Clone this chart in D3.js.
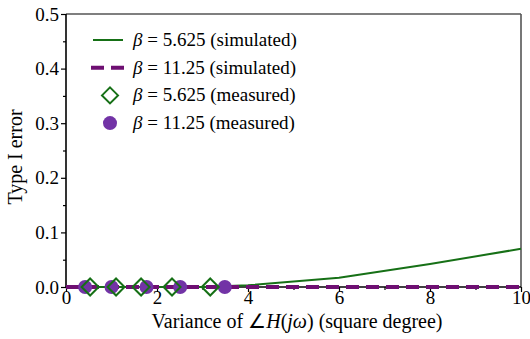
<!DOCTYPE html>
<html>
<head>
<meta charset="utf-8">
<script src="https://cdn.jsdelivr.net/npm/d3@7"></script>
<style>
  html, body { margin: 0; padding: 0; background: #fff; }
  svg { display: block; }
</style>
</head>
<body>
<svg id="chart" width="530" height="339"></svg>
<script>
// Simulated Type I error vs. phase variance
const simX = [0, 1, 2, 3, 4, 6, 8, 10];
const simLow = [0, 0, 0, 0, 0.003, 0.017, 0.042, 0.070];     // beta = 5.625
const simHigh = [0, 0, 0, 0, 0, 0, 0, 0];                     // beta = 11.25

// Measured points
const measLowX = [0.53, 1.10, 1.65, 2.33, 3.17];
const measLowY = [0, 0, 0, 0, 0];
const measHighX = [0.42, 1.00, 1.77, 2.51, 3.49];
const measHighY = [0, 0, 0, 0, 0];

const xTicks = [0, 2, 4, 6, 8, 10];
const yTicks = [0, 0.1, 0.2, 0.3, 0.4, 0.5];

const svg = d3.select("#chart");
const plotL = 66, plotR = 521, plotT = 14, plotB = 287;

const x = d3.scaleLinear().domain([0, 10]).range([plotL, plotR]);
const y = d3.scaleLinear().domain([0, 0.5]).range([plotB, plotT]);

const GREEN = "#167016";
const PURPLE_LINE = "#6e0f72";
const PURPLE_DOT = "#7233a6";
const FS = 19;
const FS_TITLE = 20;
const FONT = "Liberation Serif";

// Box: top and right edges
svg.append("line").attr("x1", plotL).attr("x2", plotR).attr("y1", plotT).attr("y2", plotT)
  .attr("stroke", "#555").attr("stroke-width", 1.6);
svg.append("line").attr("x1", plotR).attr("x2", plotR).attr("y1", plotT).attr("y2", plotB)
  .attr("stroke", "#555").attr("stroke-width", 1.6);

// Axes
const xAxis = d3.axisBottom(x).tickValues(xTicks).tickFormat(d3.format("d")).tickSize(5).tickPadding(-1);
const xMinor = d3.axisBottom(x).tickValues([1, 3, 5, 7, 9]).tickFormat("").tickSize(3);
const yAxis = d3.axisLeft(y).tickValues(yTicks).tickFormat(d3.format(".1f")).tickSize(5).tickPadding(2);
const yMinor = d3.axisLeft(y).tickValues([0.05, 0.15, 0.25, 0.35, 0.45]).tickFormat("").tickSize(3);

function styleAxis(g) {
  g.attr("font-family", FONT).attr("font-size", FS);
  g.select(".domain").remove();
  g.selectAll(".tick line").attr("stroke", "#000").attr("stroke-width", 1.2);
  g.selectAll(".tick text").attr("fill", "#000").attr("font-family", FONT).attr("font-size", FS);
}
svg.append("g").attr("transform", `translate(0,${plotB})`).call(xMinor).call(styleAxis);
svg.append("g").attr("transform", `translate(0,${plotB})`).call(xAxis).call(styleAxis);
svg.append("g").attr("transform", `translate(${plotL},0)`).call(yMinor).call(styleAxis);
svg.append("g").attr("transform", `translate(${plotL},0)`).call(yAxis).call(styleAxis);

// Left and bottom spines
svg.append("line").attr("x1", plotL).attr("x2", plotL).attr("y1", plotT).attr("y2", plotB + 0.5)
  .attr("stroke", "#000").attr("stroke-width", 1.6);
svg.append("line").attr("x1", plotL - 0.5).attr("x2", plotR).attr("y1", plotB).attr("y2", plotB)
  .attr("stroke", "#000").attr("stroke-width", 1.6);

// Lines
const line = (xs, ys) => d3.line().x((d, i) => x(xs[i])).y(d => y(d))(ys);
svg.append("path").attr("d", line(simX, simLow)).attr("fill", "none")
  .attr("stroke", GREEN).attr("stroke-width", 2);
svg.append("path").attr("d", line(simX, simHigh)).attr("fill", "none")
  .attr("stroke", PURPLE_LINE).attr("stroke-width", 4).attr("stroke-dasharray", "13,7");

// Markers
const diamond = s => `M0,${-s}L${s},0L0,${s}L${-s},0Z`;
svg.append("g").selectAll("circle").data(measHighY).join("circle")
  .attr("cx", (d, i) => x(measHighX[i])).attr("cy", d => y(d)).attr("r", 7)
  .attr("fill", PURPLE_DOT);
svg.append("g").selectAll("path").data(measLowY).join("path")
  .attr("transform", (d, i) => `translate(${x(measLowX[i])},${y(d)})`)
  .attr("d", diamond(8.5)).attr("fill", "none").attr("stroke", GREEN).attr("stroke-width", 2);

// Axis titles
svg.append("text").attr("transform", `translate(22,157) rotate(-90)`)
  .attr("text-anchor", "middle").attr("font-family", FONT).attr("font-size", FS_TITLE).text("Type I error");

const xl = svg.append("text").attr("x", 297).attr("y", 328)
  .attr("text-anchor", "middle").attr("font-family", FONT).attr("font-size", FS_TITLE);
xl.append("tspan").text("Variance of \u2220");
xl.append("tspan").attr("font-style", "italic").text("H");
xl.append("tspan").text("(");
xl.append("tspan").attr("font-style", "italic").text("j\u03c9");
xl.append("tspan").text(") (square degree)");

// Legend
const legend = [
  { label: "5.625 (simulated)", kind: "solid" },
  { label: "11.25 (simulated)", kind: "dash" },
  { label: "5.625 (measured)", kind: "diamond" },
  { label: "11.25 (measured)", kind: "dot" }
];
const lg = svg.append("g");
legend.forEach((d, i) => {
  const cy = 40 + i * 27.7;
  if (d.kind === "solid") {
    lg.append("line").attr("x1", 93).attr("x2", 123).attr("y1", cy).attr("y2", cy)
      .attr("stroke", GREEN).attr("stroke-width", 2);
  } else if (d.kind === "dash") {
    lg.append("line").attr("x1", 91).attr("x2", 126).attr("y1", cy).attr("y2", cy)
      .attr("stroke", PURPLE_LINE).attr("stroke-width", 4).attr("stroke-dasharray", "13,7");
  } else if (d.kind === "diamond") {
    lg.append("path").attr("transform", `translate(110,${cy})`).attr("d", diamond(8))
      .attr("fill", "none").attr("stroke", GREEN).attr("stroke-width", 2);
  } else {
    lg.append("circle").attr("cx", 110).attr("cy", cy).attr("r", 7).attr("fill", PURPLE_DOT);
  }
  const t = lg.append("text").attr("x", 133).attr("y", cy + 6)
    .attr("font-family", FONT).attr("font-size", FS);
  t.append("tspan").attr("font-style", "italic").text("\u03b2");
  t.append("tspan").text(" = " + d.label);
});
</script>
</body>
</html>
